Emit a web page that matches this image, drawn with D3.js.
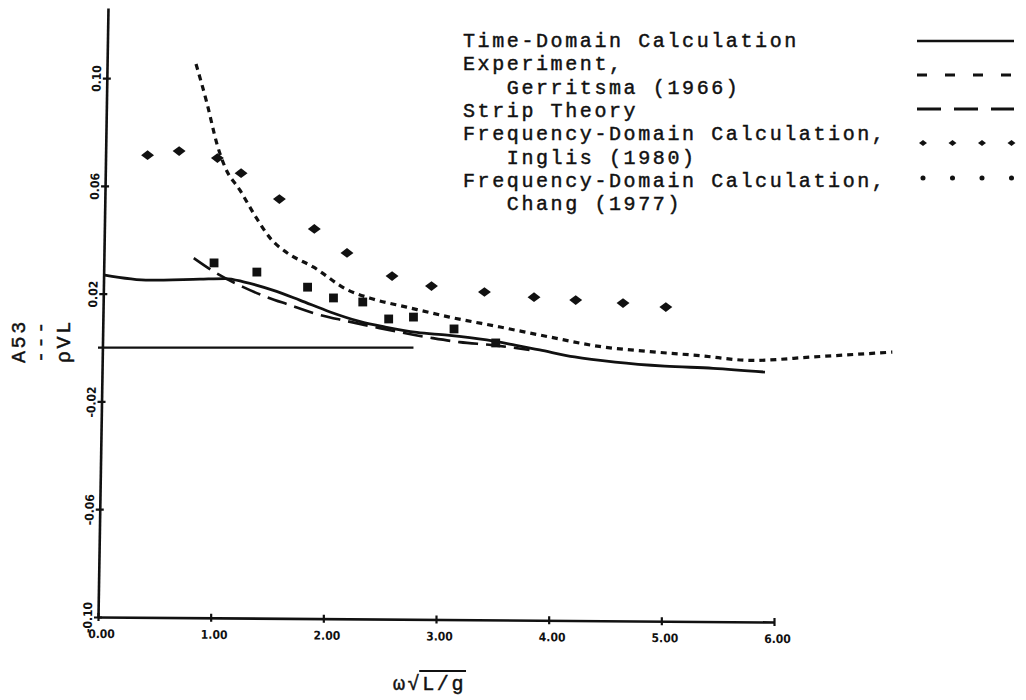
<!DOCTYPE html>
<html><head><meta charset="utf-8">
<script src="https://cdn.jsdelivr.net/npm/d3@7"></script>
<style>
body{margin:0;background:#fff;}
svg{display:block;}
.mono{font-family:'Liberation Mono','DejaVu Sans Mono',monospace;font-size:20px;letter-spacing:2.6px;fill:#111;stroke:#111;stroke-width:0.45px;}
.tl{font-family:'DejaVu Sans Condensed','Liberation Sans Narrow','DejaVu Sans',sans-serif;font-weight:bold;font-size:12px;fill:#111;}
</style></head><body>
<svg id="c" width="1026" height="700"></svg>
<script>
// ---------- data ----------
const xTicks = [0, 1, 2, 3, 4, 5, 6];
const xTickLabels = ["0.00", "1.00", "2.00", "3.00", "4.00", "5.00", "6.00"];
const yTicks = [-0.10, -0.06, -0.02, 0.02, 0.06, 0.10];
const yTickLabels = ["-0.10", "-0.06", "-0.02", "0.02", "0.06", "0.10"];

const timeDomainX = [0.06, 0.46, 0.905, 1.13, 1.30, 1.55, 1.79, 2.06, 2.32, 2.55, 2.83, 3.10, 3.45, 3.70, 3.92, 4.23, 4.59, 5.03, 5.46, 5.92];
const timeDomainY = [0.0269, 0.0250, 0.0254, 0.0256, 0.0243, 0.0213, 0.0176, 0.0132, 0.0097, 0.0076, 0.0056, 0.0046, 0.0028, 0.0009, -0.0009, -0.0035, -0.0054, -0.0069, -0.0077, -0.0091];

const experimentX = [0.87, 0.967, 1.056, 1.127, 1.26, 1.41, 1.53, 1.68, 1.91, 2.21, 2.44, 2.74, 3.12, 3.57, 4.01, 4.45, 4.90, 5.34, 5.81, 6.34, 7.05];
const experimentY = [0.1052, 0.0907, 0.0755, 0.0670, 0.0584, 0.0478, 0.0405, 0.0351, 0.0299, 0.0215, 0.0180, 0.0150, 0.0113, 0.0076, 0.0039, 0.0004, -0.0015, -0.0030, -0.0048, -0.0035, -0.0017];

const stripX = [0.85, 1.02, 1.29, 1.50, 1.70, 1.91, 2.21, 2.50, 2.97, 3.21, 3.50, 3.83];
const stripY = [0.0332, 0.0284, 0.0224, 0.0187, 0.0158, 0.0128, 0.0098, 0.0072, 0.0035, 0.0020, 0.0009, -0.0009];

const inglisX = [0.44, 0.72, 1.06, 1.27, 1.61, 1.92, 2.21, 2.61, 2.96, 3.43, 3.87, 4.24, 4.66, 5.04];
const inglisY = [0.0714, 0.0729, 0.0703, 0.0647, 0.0551, 0.0440, 0.0351, 0.0265, 0.0228, 0.0206, 0.0187, 0.0176, 0.0165, 0.0150];

const changX = [1.03, 1.41, 1.86, 2.09, 2.35, 2.58, 2.80, 3.16, 3.53];
const changY = [0.0314, 0.0280, 0.0224, 0.0184, 0.0169, 0.0106, 0.0113, 0.0069, 0.0017];

const zeroLineX = [0, 2.8];
const zeroLineY = [0, 0];

const legendLines = [
  ["Time-Domain Calculation"],
  ["Experiment,", "   Gerritsma (1966)"],
  ["Strip Theory"],
  ["Frequency-Domain Calculation,", "   Inglis (1980)"],
  ["Frequency-Domain Calculation,", "   Chang (1977)"]
];
const legendKinds = ["solid", "short", "long", "plus", "dot"];

// ---------- drawing ----------
const svg = d3.select("#c");
const x = d3.scaleLinear().domain([0, 6]).range([98, 774]);
const y = d3.scaleLinear().domain([-0.10, 0.126]).range([617, 8]);
const ink = "#111";

const zip = (xs, ys) => xs.map((v, i) => [v, ys[i]]);
const line = d3.line().x(d => x(d[0])).y(d => y(d[1])).curve(d3.curveMonotoneX);

// y axis (slightly leaning like the scan)
const tanA = -10 / 609;
const yAxisG = svg.append("g")
  .attr("transform", `translate(${98 - 617 * tanA},0) skewX(${Math.atan(tanA) * 180 / Math.PI})`)
  .call(d3.axisLeft(y).tickValues(yTicks).tickSizeInner(4).tickSizeOuter(0).tickFormat(""));
yAxisG.select(".domain").attr("stroke", ink).attr("stroke-width", 2.6);
yAxisG.selectAll(".tick line").attr("x1", 4).attr("stroke", ink).attr("stroke-width", 2.2);
yAxisG.selectAll(".tick").append("text")
  .attr("class", "tl")
  .attr("text-anchor", "middle")
  .attr("transform", "translate(-6,0) rotate(-90)")
  .text((d, i) => yTickLabels[i]);

// x axis
const tanB = 5 / 676;
const xAxisG = svg.append("g")
  .attr("transform", `translate(0,${617 - 98 * tanB}) skewY(${Math.atan(tanB) * 180 / Math.PI})`)
  .call(d3.axisBottom(x).tickValues(xTicks).tickSizeInner(4).tickSizeOuter(0).tickFormat((d, i) => xTickLabels[i]));
xAxisG.select(".domain").attr("stroke", ink).attr("stroke-width", 2.6);
xAxisG.selectAll(".tick line").attr("y1", -4).attr("stroke", ink).attr("stroke-width", 2.2);
xAxisG.selectAll(".tick text").attr("class", "tl").attr("font-size", null).attr("font-family", null)
  .attr("y", 21).attr("dy", 0).attr("x", 3);

// zero reference line
svg.append("path").datum(zip(zeroLineX, zeroLineY))
  .attr("d", d3.line().x(d => x(d[0])).y(d => y(d[1])))
  .attr("fill", "none").attr("stroke", ink).attr("stroke-width", 2.2);

// curves
svg.append("path").datum(zip(timeDomainX, timeDomainY)).attr("d", line)
  .attr("fill", "none").attr("stroke", ink).attr("stroke-width", 2.8);
svg.append("path").datum(zip(experimentX, experimentY)).attr("d", line)
  .attr("fill", "none").attr("stroke", ink).attr("stroke-width", 3.2).attr("stroke-dasharray", "6,5");
svg.append("path").datum(zip(stripX, stripY)).attr("d", line)
  .attr("fill", "none").attr("stroke", ink).attr("stroke-width", 2.6).attr("stroke-dasharray", "20,8");

// markers
const diamond = d3.symbol(d3.symbolSquare, 58);
svg.append("g").selectAll("path").data(zip(inglisX, inglisY)).join("path")
  .attr("d", diamond)
  .attr("transform", d => `translate(${x(d[0])},${y(d[1])}) scale(1.2,0.9) rotate(45)`)
  .attr("fill", ink);
const square = d3.symbol(d3.symbolSquare, 78);
svg.append("g").selectAll("path").data(zip(changX, changY)).join("path")
  .attr("d", square)
  .attr("transform", d => `translate(${x(d[0])},${y(d[1])})`)
  .attr("fill", ink);

// legend
const lg = svg.append("g");
const base0 = 47, step = 23.3;
let row = 0;
legendLines.forEach((lines) => {
  lines.forEach(t => {
    lg.append("text").attr("class", "mono").attr("x", 463).attr("y", base0 + row * step)
      .attr("xml:space", "preserve").style("white-space", "pre").text(t);
    row++;
  });
});
const sampleY = {solid: 41, short: 75, long: 109, plus: 143, dot: 178};
legendKinds.forEach((kind) => {
  const yy = sampleY[kind];
  if (kind === "solid" || kind === "short" || kind === "long") {
    lg.append("line").attr("x1", 917).attr("x2", 1014).attr("y1", yy).attr("y2", yy)
      .attr("stroke", ink).attr("stroke-width", kind === "solid" ? 2.6 : 3)
      .attr("stroke-dasharray", kind === "short" ? "10,18" : kind === "long" ? "24,13" : null);
  } else {
    for (let i = 0; i < 4; i++) {
      const cx = 923 + i * 29.5;
      if (kind === "plus") {
        lg.append("path").attr("d", d3.symbol(d3.symbolSquare, 22))
          .attr("transform", `translate(${cx},${yy}) scale(1.2,0.9) rotate(45)`).attr("fill", ink);
      } else {
        lg.append("path").attr("d", d3.symbol(d3.symbolCircle, 20))
          .attr("transform", `translate(${cx},${yy})`).attr("fill", ink);
      }
    }
  }
});

// y-axis label (typewriter fraction, rotated)
const yl = svg.append("g").attr("transform", "translate(0,363) rotate(-90)");
yl.append("text").attr("class", "mono").attr("x", 0).attr("y", 25).text("A53");
yl.append("text").attr("class", "mono").attr("x", 0).attr("y", 47).text("---");
yl.append("text").attr("class", "mono").attr("x", 0).attr("y", 70).text("ρVL");

// x-axis title  ω√(L/g)
const xt = svg.append("text").attr("class", "mono").attr("x", 393).attr("y", 690).text("ω√L/g");
const n = xt.node();
const sx = n.getStartPositionOfChar(2).x;
const ex = n.getEndPositionOfChar(4).x;
svg.append("line").attr("x1", sx - 3).attr("x2", ex).attr("y1", 671).attr("y2", 671)
  .attr("stroke", ink).attr("stroke-width", 1.8);
</script>
</body></html>
